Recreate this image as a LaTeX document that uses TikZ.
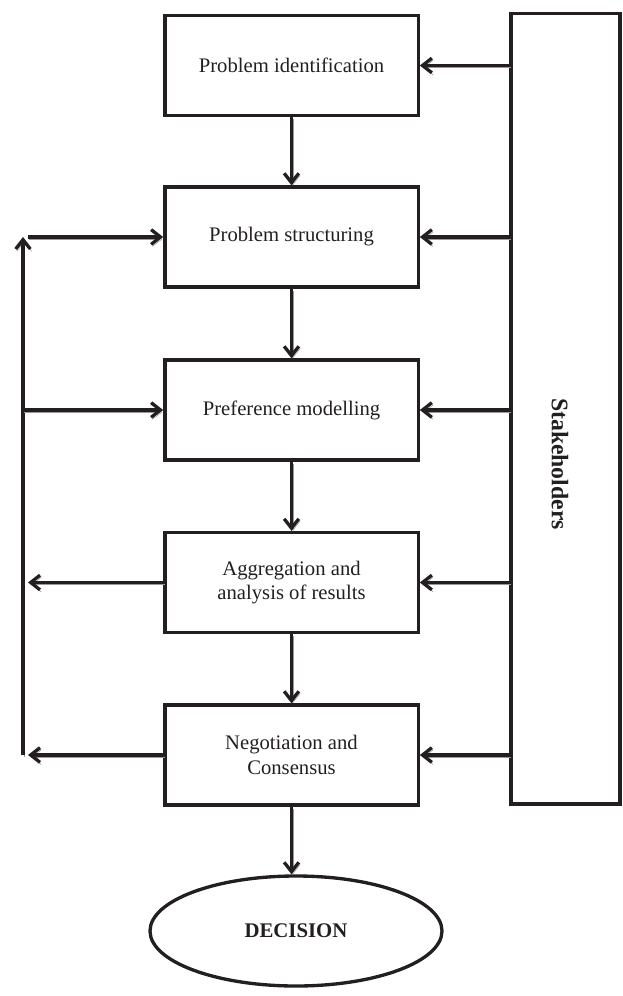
\documentclass[tikz,border=0pt]{standalone}
\usepackage{fontspec}
\setmainfont{Liberation Serif}
\usetikzlibrary{arrows.meta,shapes.geometric}
\definecolor{ink}{RGB}{35,31,32}
\begin{document}
\begin{tikzpicture}[x=0.75pt,y=-0.75pt,
  every node/.style={text=ink},
  stepbox/.style={draw=ink, line width=2.5pt, rectangle, minimum width=190pt, minimum height=75pt, inner sep=0pt, align=center, font=\fontsize{15.5}{18.5}\selectfont},
  sidebox/.style={draw=ink, line width=2.5pt, rectangle, minimum width=81.75pt, minimum height=593pt, inner sep=0pt},
  endnode/.style={draw=ink, line width=2.5pt, ellipse, minimum width=219pt, minimum height=82.5pt, inner sep=0pt, font=\bfseries\fontsize{15.6}{18}\selectfont},
  arr/.style={draw=ink, line width=2.5pt, -{Straight Barb[length=7pt,width=11pt]},
    preaction={draw=black!40, transform canvas={shift={(1pt,-1.6pt)}}}}]
\useasboundingbox (0,0) rectangle (622,996);
\node[stepbox] (b1) at (291.5,65.5) {Problem identification};
\node[stepbox] (b2) at (291.5,237) {Problem structuring};
\node[stepbox] (b3) at (291.5,410) {Preference modelling};
\node[stepbox] (b4) at (291.5,582.5) {Aggregation and\\analysis of results};
\node[stepbox] (b5) at (291.5,755) {Negotiation and\\Consensus};
\node[sidebox] (st) at (565.5,408.5) {};
\node[rotate=-90, font=\bfseries\fontsize{17.8}{20}\selectfont] (stlabel) at (560,464) {Stakeholders};
\node[endnode] (dec) at (296,931) {DECISION};
% vertical flow
\draw[arr] (b1.south) -- (b2.north);
\draw[arr] (b2.south) -- (b3.north);
\draw[arr] (b3.south) -- (b4.north);
\draw[arr] (b4.south) -- (b5.north);
\draw[arr] (b5.south) -- (b5.south |- dec.north);
% stakeholders inputs
\draw[arr] (st.west |- b1.east) -- (b1.east);
\draw[arr] (st.west |- b2.east) -- (b2.east);
\draw[arr] (st.west |- b3.east) -- (b3.east);
\draw[arr] (st.west |- b4.east) -- (b4.east);
\draw[arr] (st.west |- b5.east) -- (b5.east);
% feedback loop
\coordinate (ltop) at (23,237);
\coordinate (lstart) at (28,237);
\coordinate (lmid) at (23,410);
\coordinate (l4) at (28,582.5);
\coordinate (l5) at (28,755);
\coordinate (lbot) at (23,755);
\draw[arr] (lbot) -- (ltop);
\draw[arr] (lstart) -- (b2.west);
\draw[arr] (lmid) -- (b3.west);
\draw[arr] (b4.west) -- (l4);
\draw[arr] (b5.west) -- (l5);
\end{tikzpicture}
\end{document}
